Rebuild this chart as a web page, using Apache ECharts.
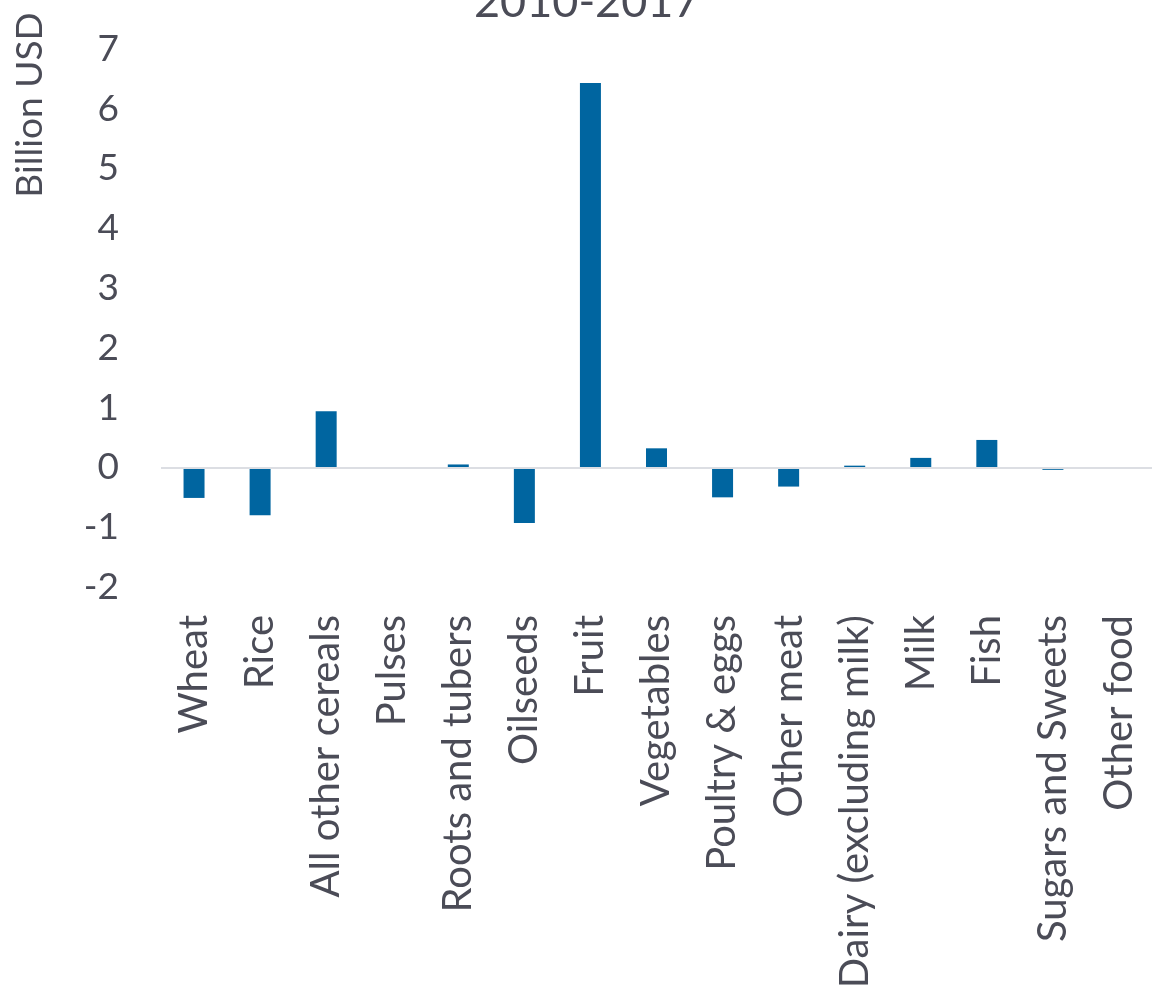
<!DOCTYPE html>
<html>
<head>
<meta charset="utf-8">
<script src="https://cdn.jsdelivr.net/npm/echarts@6/dist/echarts.min.js"></script>
<style>
  html, body { margin: 0; padding: 0; background: #ffffff; }
  #chart { width: 1152px; height: 995px; }
</style>
</head>
<body>
<div id="chart"></div>
<script>
// Food product groups
const categories = [
  'Wheat', 'Rice', 'All other cereals', 'Pulses', 'Roots and tubers',
  'Oilseeds', 'Fruit', 'Vegetables', 'Poultry & eggs', 'Other meat',
  'Dairy (excluding milk)', 'Milk', 'Fish', 'Sugars and Sweets', 'Other food'
];
// Change in value, billion USD
const values = [
  -0.51, -0.80, 0.94, 0.0, 0.05,
  -0.93, 6.43, 0.32, -0.50, -0.32,
  0.03, 0.16, 0.46, -0.04, -0.02
];
const yTicks = { min: -2, max: 7, interval: 1 };
const titleText = '2010-2017';
const yAxisTitle = 'Billion USD';

const textColor = '#4b4c57';
const fontFamily = 'Lato, "Open Sans", sans-serif';

const chart = echarts.init(document.getElementById('chart'), null, { renderer: 'canvas' });
chart.setOption({
  animation: false,
  backgroundColor: '#ffffff',
  title: {
    text: titleText,
    left: 474,
    top: -20,
    padding: 0,
    textStyle: { color: textColor, fontFamily, fontSize: 45, fontWeight: 'normal' }
  },
  graphic: [{
    type: 'text',
    x: 30,
    y: 105,
    rotation: Math.PI / 2,
    style: {
      text: yAxisTitle,
      fill: textColor,
      font: '37px ' + fontFamily,
      align: 'center',
      verticalAlign: 'middle'
    }
  }],
  grid: { left: 161, right: -5, top: 49, bottom: 408, containLabel: false },
  xAxis: {
    type: 'category',
    data: categories,
    axisLine: { show: false, onZero: false },
    axisTick: { show: false },
    splitLine: { show: false },
    axisLabel: {
      interval: 0,
      rotate: 90,
      margin: 28,
      color: textColor,
      fontFamily,
      fontSize: 40
    }
  },
  yAxis: {
    type: 'value',
    min: yTicks.min,
    max: yTicks.max,
    interval: yTicks.interval,
    axisLine: { show: false },
    axisTick: { show: false },
    splitLine: { show: false },
    axisLabel: {
      margin: 42,
      color: textColor,
      fontFamily,
      fontSize: 37
    }
  },
  series: [{
    type: 'bar',
    data: values,
    barWidth: 21,
    itemStyle: { color: '#0065a0' },
    markLine: {
      silent: true,
      symbol: 'none',
      label: { show: false },
      lineStyle: { color: '#dcdee3', width: 2, type: 'solid' },
      data: [{ yAxis: 0 }]
    }
  }]
});
</script>
</body>
</html>
